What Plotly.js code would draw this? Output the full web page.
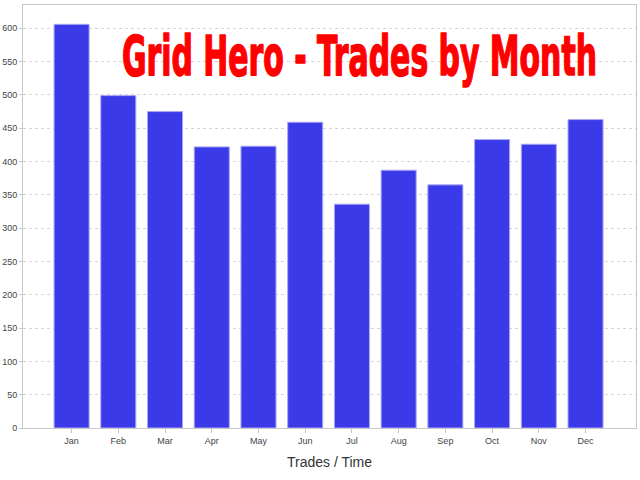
<!DOCTYPE html>
<html>
<head>
<meta charset="utf-8">
<script src="https://cdn.plot.ly/plotly-3.0.1.min.js"></script>
<style>
  html, body { margin: 0; padding: 0; background: #fff; }
  #chart { width: 640px; height: 480px; }
</style>
</head>
<body>
<div id="chart"></div>
<script>
const months = ["Jan", "Feb", "Mar", "Apr", "May", "Jun", "Jul", "Aug", "Sep", "Oct", "Nov", "Dec"];
const trades = [606, 499, 475, 422, 423, 459, 336, 387, 365, 433, 426, 463];
const titleText = "Grid Hero - Trades by Month";
const xTitle = "Trades / Time";

const condensed = '"Liberation Sans Narrow", "DejaVu Sans Condensed", sans-serif';
const plain = '"Liberation Sans", Arial, sans-serif';

const trace = {
  type: "bar",
  x: months,
  y: trades,
  width: 0.75,
  marker: { color: "#3a3ae8", line: { color: "#a8a8f6", width: 1 } },
  hoverinfo: "x+y",
};

const layout = {
  width: 640,
  height: 480,
  margin: { l: 23, r: 4, t: 5, b: 52 },
  paper_bgcolor: "#fff",
  plot_bgcolor: "#fff",
  showlegend: false,
  title: {
    text: titleText,
    font: { family: condensed, size: 44, color: "#ff0000", weight: "bold" },
    x: 0.56,
    xanchor: "center",
    y: 0.9,
    yanchor: "middle",
  },
  xaxis: {
    type: "category",
    range: [-1.04, 12.08],
    showgrid: false,
    showline: true,
    mirror: true,
    linecolor: "#c8c8c8",
    linewidth: 1,
    ticks: "outside",
    ticklen: 4,
    tickcolor: "#c8c8c8",
    tickfont: { family: plain, size: 9, color: "#444" },
    title: { text: xTitle, font: { family: plain, size: 14, color: "#333" }, standoff: 12 },
  },
  yaxis: {
    range: [0, 635],
    dtick: 50,
    showgrid: true,
    gridcolor: "#d6d6d6",
    griddash: "dot",
    zeroline: false,
    showline: true,
    mirror: true,
    linecolor: "#c8c8c8",
    linewidth: 1,
    ticks: "outside",
    ticklen: 3,
    tickcolor: "#c8c8c8",
    tickfont: { family: plain, size: 9, color: "#444" },
  },
};

// stretch the title into the tall poster-style lettering of the original
function fitTitle() {
  const el = document.querySelector(".gtitle");
  if (!el) return;
  el.style.stroke = "#ff0000";
  el.style.strokeWidth = "1.2px";
  el.style.strokeLinejoin = "round";
  const rect = el.getBoundingClientRect();
  const ctx = document.createElement("canvas").getContext("2d");
  ctx.font = `bold 44px ${condensed}`;
  const cap = ctx.measureText("H").actualBoundingBoxAscent;
  const asc = ctx.measureText(titleText).fontBoundingBoxAscent;
  const sx = 475 / rect.width;
  const sy = 42 / cap;
  const baseline = rect.top + asc;
  const tx = 122 - sx * rect.left;
  const ty = 75 - sy * baseline;
  const prev = el.getAttribute("transform") || "";
  el.setAttribute("transform", `translate(${tx},${ty}) scale(${sx},${sy}) ${prev}`);
}

Plotly.newPlot("chart", [trace], layout, { displayModeBar: false, staticPlot: true })
  .then(fitTitle)
  .catch((err) => console.error(err));
</script>
</body>
</html>
